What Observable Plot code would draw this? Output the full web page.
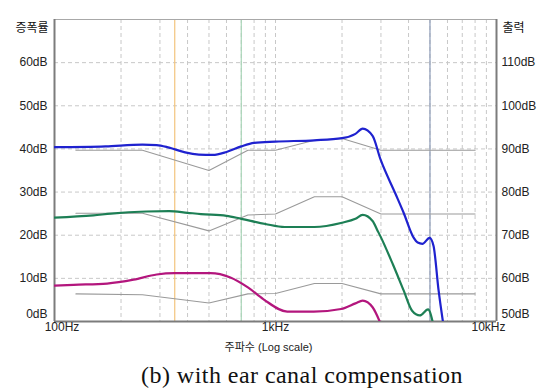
<!DOCTYPE html>
<html>
<head>
<meta charset="utf-8">
<script src="https://cdn.jsdelivr.net/npm/d3@7"></script>
<script src="https://cdn.jsdelivr.net/npm/@observablehq/plot@0.6"></script>
<style>
  html, body { margin: 0; padding: 0; background: #fff; }
  #wrap { position: relative; width: 554px; height: 389px; overflow: hidden; }
  #caption {
    position: absolute; left: 0; top: 362px; width: 604px; text-align: center;
    font-family: "Liberation Serif", "Times New Roman", serif; font-size: 24px;
    letter-spacing: 0.45px; line-height: 27px; color: #111; white-space: nowrap;
  }
</style>
</head>
<body>
<div id="wrap"><div id="chart"></div><div id="caption">(b) with ear canal compensation</div></div>
<script>
// Gain curves (dB) measured at three input levels
const freqBlue = [100, 170, 250, 290, 330, 390, 450, 520, 600, 700, 800, 1000, 1500, 2000, 2300, 2480, 2750, 2990, 3490, 3800, 4210, 4400, 4620, 4980, 5190, 5470, 5760];
const gainBlue = [40.4, 40.6, 41.0, 40.9, 40.3, 39.2, 38.7, 38.6, 39.3, 40.6, 41.4, 41.7, 42.0, 42.5, 43.5, 44.7, 43.0, 37.5, 29.6, 25.2, 19.5, 18.3, 18.0, 19.4, 17.5, 7.2, -1];

const freqGreen = [100, 150, 180, 260, 330, 400, 460, 600, 700, 900, 1100, 1500, 2000, 2300, 2480, 2750, 2900, 3000, 3400, 3800, 4150, 4500, 4900, 5190];
const gainGreen = [24.1, 24.6, 25.0, 25.5, 25.6, 25.2, 24.9, 24.5, 23.8, 22.6, 21.9, 21.9, 22.9, 23.8, 24.7, 23.3, 21.0, 19.5, 13.2, 7.2, 2.5, 1.4, 2.8, -1];

const freqMagenta = [100, 122, 173, 228, 290, 350, 458, 508, 625, 750, 880, 1130, 1490, 1980, 2300, 2480, 2750, 2990];
const gainMagenta = [8.3, 8.5, 8.8, 9.7, 10.9, 11.2, 11.2, 11.2, 10.2, 7.9, 5.2, 2.3, 2.3, 2.9, 4.2, 4.85, 3.3, -0.5];

// Prescription targets (piecewise linear between audiometric frequencies)
const targetFreq = [125, 250, 500, 750, 1000, 1500, 2000, 3000, 8000];
const targetHigh = [39.7, 39.7, 35.0, 39.7, 39.7, 42.0, 42.4, 39.7, 39.7];
const targetMid  = [25.1, 25.1, 21.0, 24.7, 24.9, 28.9, 28.9, 24.9, 24.9];
const targetLow  = [6.4, 6.2, 4.3, 6.4, 6.5, 8.8, 8.8, 6.4, 6.4];

// Marker frequencies
const markerFreq = [350, 700, 5000];
const markerColor = ["#f3c47e", "#a9d6b8", "#8c9bb8"];

// Axis ticks
const gainTicks = [0, 10, 20, 30, 40, 50, 60];
const outputOffset = 50;
const gridFreq = [200, 300, 400, 500, 600, 700, 800, 900, 1000, 2000, 3000, 4000, 5000, 6000, 7000, 8000, 9000];
const freqTicks = [100, 1000, 10000];
const freqTickLabels = ["100Hz", "1kHz", "10kHz"];

const toRows = (f, g) => f.map((x, i) => ({f: x, g: g[i]}));

const curve = (f, g, color) => Plot.line(toRows(f, g), {
  x: "f", y: "g", stroke: color, strokeWidth: 2.2, curve: "monotone-x", clip: true
});
const target = (g) => Plot.line(toRows(targetFreq, g), {
  x: "f", y: "g", stroke: "#9a9a9a", strokeWidth: 1.1
});

const axisColor = "#7c7c7c";
const labelShift = [7.5, 0, -8];
const gridStyle = {stroke: "#c8c8c8", strokeDasharray: "4,3", strokeWidth: 1};

// tick labels on both value axes; the bottom one is lifted into the frame
const valueLabels = (ticks, anchor) => {
  const onRight = anchor === "right";
  const fmt = d => `${onRight ? d + outputOffset : d}dB`;
  const base = {
    x: onRight ? 10000 : 100, y: d => d, text: fmt,
    textAnchor: onRight ? "start" : "end", dx: onRight ? 5 : -7, fill: "#222"
  };
  return [
    Plot.text(ticks.filter(d => d > 0), base),
    Plot.text(ticks.filter(d => d === 0), {...base, dy: -7})
  ];
};

const chart = Plot.plot({
  width: 554,
  height: 362,
  marginLeft: 54,
  marginRight: 58,
  marginTop: 19,
  marginBottom: 41,
  style: {fontFamily: "'Liberation Sans', Arial, 'Noto Sans CJK KR', sans-serif", fontSize: "12px", background: "#fff", color: "#222"},
  x: {type: "log", domain: [100, 10000], axis: null},
  y: {domain: [0, 70], axis: null},
  marks: [
    // dashed grid
    Plot.ruleX(gridFreq, gridStyle),
    Plot.ruleY(gainTicks.filter(d => d > 0), gridStyle),
    // marker lines
    Plot.ruleX(markerFreq, {stroke: (d, i) => markerColor[i], strokeWidth: 1.2}),
    // frame
    Plot.ruleY([70], {stroke: "#a8a8a8", strokeWidth: 1}),
    Plot.ruleX([100, 10000], {stroke: axisColor, strokeWidth: 2}),
    Plot.ruleY([0], {stroke: axisColor, strokeWidth: 2}),
    // targets
    target(targetHigh),
    target(targetMid),
    target(targetLow),
    // measured gain
    curve(freqMagenta, gainMagenta, "#b3167d"),
    curve(freqGreen, gainGreen, "#1d7f55"),
    curve(freqBlue, gainBlue, "#1f22cf"),
    // value axes
    ...valueLabels(gainTicks, "left"),
    ...valueLabels(gainTicks, "right"),
    // axis headers
    Plot.text(["증폭률"], {frameAnchor: "top-left", textAnchor: "end", dx: -6, dy: 4, fontSize: 12, fill: "#111"}),
    Plot.text(["출력"], {frameAnchor: "top-right", textAnchor: "start", dx: 6, dy: 4, fontSize: 12, fill: "#111"}),
    // frequency tick labels
    ...freqTicks.map((f, i) => Plot.text([freqTickLabels[i]], {
      x: f, frameAnchor: "bottom", dy: 9, dx: labelShift[i], fill: "#222"
    })),
    // frequency axis title
    Plot.text(["주파수 (Log scale)"], {frameAnchor: "bottom", dy: 29, dx: -7, fontSize: 11, fill: "#222"})
  ]
});

document.getElementById("chart").appendChild(chart);
</script>
</body>
</html>
